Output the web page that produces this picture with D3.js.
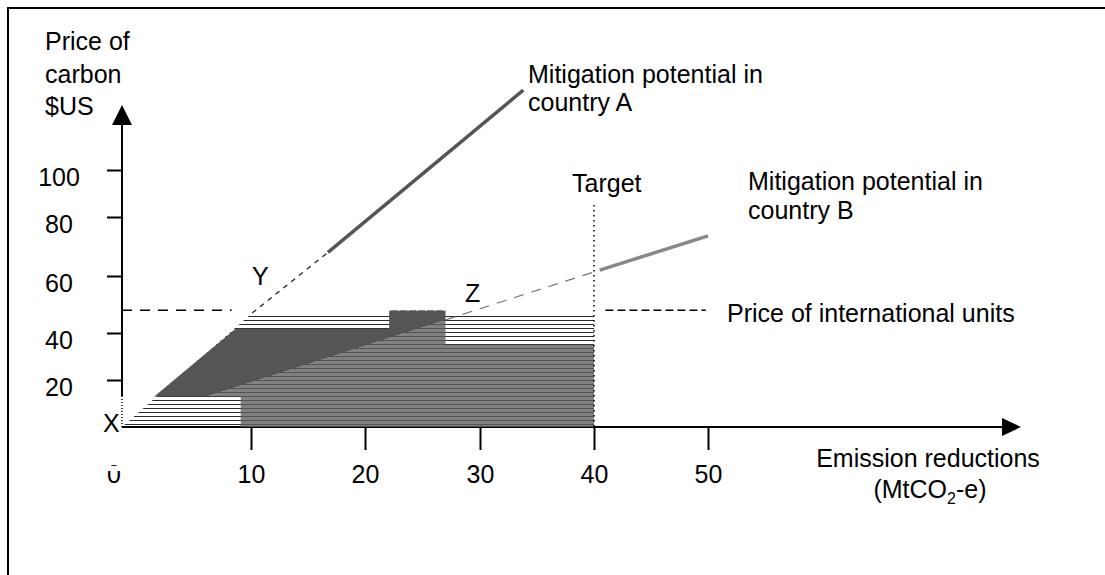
<!DOCTYPE html>
<html>
<head>
<meta charset="utf-8">
<script src="https://cdn.jsdelivr.net/npm/d3@7"></script>
<style>
    body { margin: 0; background: #fff; }
    svg text { font-family: "Liberation Sans", Arial, sans-serif; font-size: 25px; fill: #000; }
</style>
</head>
<body>
<div id="chart"></div>
<script>
const svgWidth = 1105,
    svgHeight = 575;

// ticks as drawn on the axes
const xTicks = [0, 10, 20, 30, 40, 50];
const yTicks = [20, 40, 60, 80, 100];

// price of international units, reduction target
const intlPrice = 48;
const targetReduction = 40;

// mitigation potential curves (reduction, price)
const curveAx = [0, 10.1, 16.75, 33.8];
const curveAy = [0, 47, 68, 134];
const curveBx = [6.6, 27, 40.5, 50];
const curveBy = [13, 44.6, 62, 73.6];

// shaded areas
const darkAreaX = [2.5, 8.8, 22.1, 22.1, 27, 27, 6.6];
const darkAreaY = [13, 41.5, 41.5, 48, 48, 44.6, 13];
const greyAreaX = [6.6, 27, 27, 40, 40, 9.2, 9.2];
const greyAreaY = [13, 44.6, 35, 35, 0, 0, 13];
const hatchAreaX = [0, 10.1, 40, 40];
const hatchAreaY = [0, 47, 47, 0];

// the ticks are not evenly spaced in the original, so piecewise scales
const x = d3.scaleLinear()
    .domain(xTicks)
    .range([122, 251, 365, 480, 594, 708]);
const y = d3.scaleLinear()
    .domain([0].concat(yTicks))
    .range([427, 380, 333, 276, 217, 170]);

const zip = (xs, ys) => xs.map((d, i) => [x(d), y(ys[i])]);
const line = d3.line();

let svg = d3.select("#chart").append("svg")
    .attr("width", svgWidth)
    .attr("height", svgHeight);

// hatch pattern
svg.append("defs").append("pattern")
    .attr("id", "hatch")
    .attr("patternUnits", "userSpaceOnUse")
    .attr("width", 8)
    .attr("height", 4)
    .append("rect")
    .attr("width", 8)
    .attr("height", 1)
    .attr("fill", "#2b2b2b");

// frame
svg.append("path")
    .attr("d", `M8,${svgHeight} V8 H${svgWidth}`)
    .attr("fill", "none")
    .attr("stroke", "#000")
    .attr("stroke-width", 2);

// hatched area under the price
svg.append("path")
    .attr("d", line(zip(hatchAreaX, hatchAreaY)) + "Z")
    .attr("fill", "url(#hatch)");

// axes
let xAxis = svg.append("g")
    .attr("transform", `translate(0, ${y(0)})`)
    .call(d3.axisBottom(x).tickValues(xTicks.slice(1)).tickSize(23).tickPadding(15).tickSizeOuter(0));
xAxis.select(".domain").remove();
xAxis.selectAll("line").attr("stroke-width", 2);
xAxis.selectAll("text").attr("font-size", null).attr("font-family", null);
xAxis.append("line")
    .attr("x1", x(0))
    .attr("x2", 1004)
    .attr("stroke", "#000")
    .attr("stroke-width", 2);
xAxis.append("path")
    .attr("d", "M1002,-9 L1021,0 L1002,9 Z")
    .attr("fill", "#000");

// garbled zero at the origin
svg.append("text")
    .attr("x", x(0) - 8)
    .attr("y", 483)
    .attr("text-anchor", "middle")
    .text(xTicks[0]);
svg.append("rect")
    .attr("x", x(0) - 16)
    .attr("y", 466)
    .attr("width", 16)
    .attr("height", 5)
    .attr("fill", "#fff");

let yAxis = svg.append("g")
    .attr("transform", `translate(${x(0)}, 0)`)
    .call(d3.axisLeft(y).tickValues(yTicks).tickSize(15).tickSizeOuter(0));
yAxis.select(".domain").remove();
yAxis.selectAll("line").attr("stroke-width", 2);
yAxis.selectAll("text")
    .attr("font-size", null)
    .attr("font-family", null)
    .attr("text-anchor", "middle")
    .attr("x", -63)
    .attr("dy", 15);
yAxis.append("line")
    .attr("y1", y(13))
    .attr("y2", 122)
    .attr("stroke", "#000")
    .attr("stroke-width", 2);
yAxis.append("line")
    .attr("y1", y(0))
    .attr("y2", y(13))
    .attr("stroke", "#000")
    .attr("stroke-width", 1.5)
    .attr("stroke-dasharray", "1,2");
yAxis.append("path")
    .attr("d", "M0,105 L10,125 L-10,125 Z")
    .attr("fill", "#000");

// grey area: cost in country B
svg.append("path")
    .attr("d", line(zip(greyAreaX, greyAreaY)) + "Z")
    .attr("fill", "#606060")
    .attr("fill-opacity", 0.8);

// dark area: cost in country A
svg.append("path")
    .attr("d", line(zip(darkAreaX, darkAreaY)) + "Z")
    .attr("fill", "#555");
svg.append("line")
    .attr("x1", x(darkAreaX[2]))
    .attr("x2", x(darkAreaX[4]))
    .attr("y1", y(intlPrice))
    .attr("y2", y(intlPrice))
    .attr("stroke", "#fff")
    .attr("stroke-width", 1)
    .attr("stroke-dasharray", "2,7");

// price of international units
[[0, 8.5, "10,8"], [41, 49.8, "8,4"]].forEach((seg) => {
    svg.append("line")
        .attr("x1", x(seg[0]))
        .attr("x2", x(seg[1]))
        .attr("y1", y(intlPrice))
        .attr("y2", y(intlPrice))
        .attr("stroke", "#000")
        .attr("stroke-width", 1.5)
        .attr("stroke-dasharray", seg[2]);
});

// target
svg.append("line")
    .attr("x1", x(targetReduction))
    .attr("x2", x(targetReduction))
    .attr("y1", 205)
    .attr("y2", y(0))
    .attr("stroke", "#000")
    .attr("stroke-width", 1.5)
    .attr("stroke-dasharray", "1.5,3.5");

// curve A
let ptsA = zip(curveAx, curveAy);
svg.append("path")
    .attr("d", line(ptsA.slice(1, 3)))
    .attr("stroke", "#222")
    .attr("stroke-width", 1.3)
    .attr("stroke-dasharray", "5,5");
svg.append("path")
    .attr("d", line(ptsA.slice(2)))
    .attr("stroke", "#555")
    .attr("stroke-width", 3.5);

// curve B
let ptsB = zip(curveBx, curveBy);
svg.append("path")
    .attr("d", line(ptsB.slice(1, 3)))
    .attr("stroke", "#777")
    .attr("stroke-width", 1.2)
    .attr("stroke-dasharray", "10,8");
svg.append("path")
    .attr("d", line(ptsB.slice(2)))
    .attr("stroke", "#888")
    .attr("stroke-width", 3.5);

// labels
function addText(lines, px, py, lh) {
    let t = svg.append("text");
    lines.forEach((s, i) => {
        t.append("tspan")
            .attr("x", px)
            .attr("y", py + i * lh)
            .text(s);
    });
    return t;
}

addText(["Price of", "carbon", "$US"], 45, 50, 32.5);
addText(["Mitigation potential in", "country A"], 528, 83, 28);
addText(["Mitigation potential in", "country B"], 748, 190, 29);
addText(["Price of international units"], 727, 322, 0);
addText(["Target"], 572, 192, 0);
addText(["X"], 103, 432, 0);
addText(["Y"], 252, 285, 0);
addText(["Z"], 465, 302, 0);

svg.append("text")
    .attr("x", 928)
    .attr("y", 467)
    .attr("text-anchor", "middle")
    .text("Emission reductions");
let unit = svg.append("text")
    .attr("x", 930)
    .attr("y", 498)
    .attr("text-anchor", "middle");
unit.append("tspan").text("(MtCO");
unit.append("tspan").attr("font-size", 16).attr("dy", 6).text("2");
unit.append("tspan").attr("dy", -6).text("-e)");
</script>
</body>
</html>
